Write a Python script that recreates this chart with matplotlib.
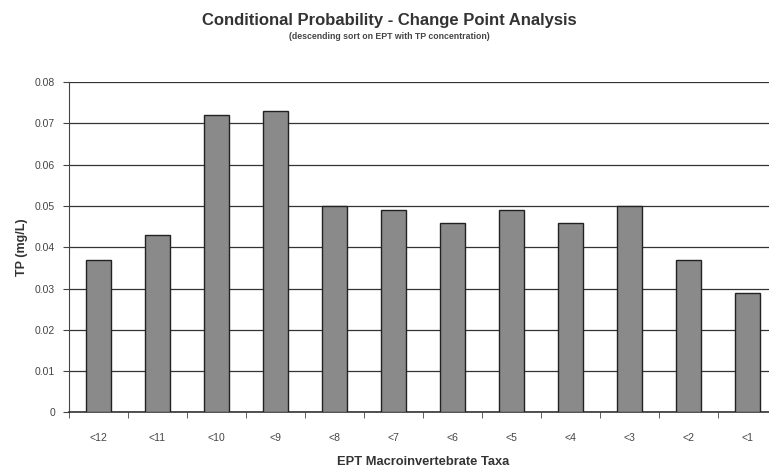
import matplotlib
matplotlib.use("Agg")
import matplotlib.pyplot as plt
import numpy as np

categories = ["<12", "<11", "<10", "<9", "<8", "<7", "<6", "<5", "<4", "<3", "<2", "<1"]
tp_values = [0.037, 0.043, 0.072, 0.073, 0.050, 0.049, 0.046, 0.049, 0.046, 0.050, 0.037, 0.029]
yticks = [0, 0.01, 0.02, 0.03, 0.04, 0.05, 0.06, 0.07, 0.08]
ytick_labels = ["0", "0.01", "0.02", "0.03", "0.04", "0.05", "0.06", "0.07", "0.08"]

plt.rcParams['font.family'] = ['Liberation Sans', 'DejaVu Sans']

fig = plt.figure(figsize=(7.69, 4.72), dpi=100)
ax = fig.add_axes([0.0897, 0.1261, 0.9207, 0.700])

x = np.arange(len(categories))
ax.bar(x, tp_values, width=0.41, color="#8a8a8a", edgecolor="#222222", linewidth=1.0, zorder=3)

ax.set_xlim(-0.5, len(categories) - 0.5)
ax.set_ylim(0, 0.08)
ax.set_yticks(yticks)
ax.set_yticklabels(ytick_labels, fontsize=7.5, color="#444444")
ax.yaxis.grid(True, color="#333333", linewidth=0.9, zorder=0)
ax.set_axisbelow(True)

ax.set_xticks(x)
ax.set_xticklabels(categories, fontsize=7.5, color="#444444")
ax.tick_params(axis='x', which='major', length=0, pad=15)
ax.set_xticks(np.arange(-0.5, len(categories), 1.0), minor=True)
ax.tick_params(axis='x', which='minor', length=4, direction='out', color="#444444")
ax.tick_params(axis='y', length=4, direction='out', color="#444444", pad=6)

for s in ["top", "right"]:
    ax.spines[s].set_visible(False)
ax.spines["left"].set_color("#444444")
ax.spines["bottom"].set_color("#333333")
ax.spines["bottom"].set_linewidth(1.2)

ax.set_ylabel("TP (mg/L)", fontsize=9, fontweight="bold", color="#333333", labelpad=5)
ax.set_xlabel("EPT Macroinvertebrate Taxa", fontsize=9.3, fontweight="bold", color="#333333", labelpad=9)

fig.text(0.506, 0.956, "Conditional Probability - Change Point Analysis", ha="center", va="center",
         fontsize=12, fontweight="bold", color="#333333")
fig.text(0.506, 0.922, "(descending sort on EPT with TP concentration)", ha="center", va="center",
         fontsize=6.3, fontweight="bold", color="#444444")

fig.savefig("out.png", dpi=100)
